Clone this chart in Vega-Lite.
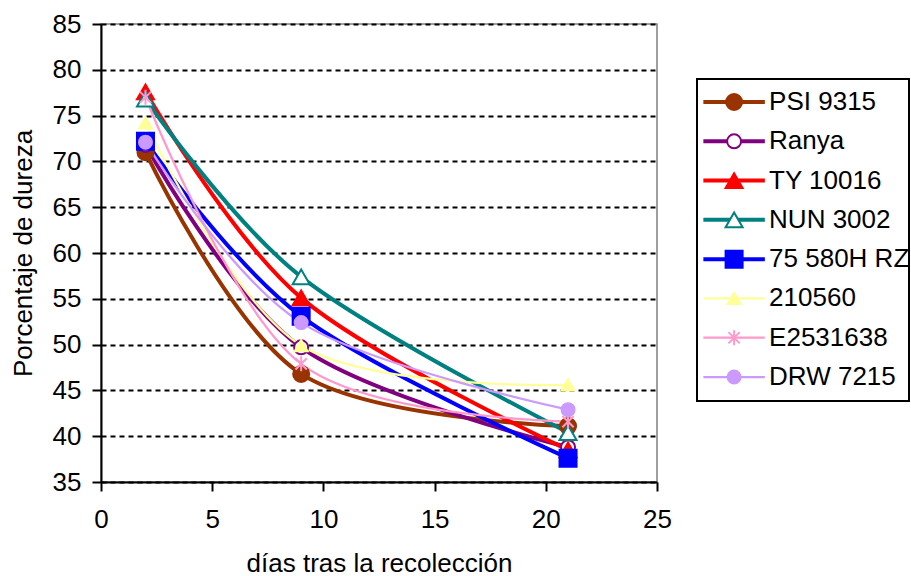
{
  "$schema": "https://vega.github.io/schema/vega-lite/v6.json",
  "background": "white",
  "padding": {"left": 9, "top": 10, "right": 0, "bottom": 0},
  "spacing": 23,
  "config": {
    "font": "Liberation Sans",
    "axis": {
      "domainColor": "black", "domainWidth": 2,
      "tickColor": "black", "tickWidth": 2, "tickSize": 9,
      "labelFontSize": 26, "labelColor": "black", "labelFlush": false,
      "titleFontSize": 26, "titleFontWeight": "normal", "titleColor": "black"
    }
  },
  "datasets": {
    "points": [
      {"series": "PSI 9315", "dias": 2, "dureza": 71.0},
      {"series": "PSI 9315", "dias": 9, "dureza": 46.8},
      {"series": "PSI 9315", "dias": 21, "dureza": 41.1},
      {"series": "Ranya", "dias": 2, "dureza": 71.8},
      {"series": "Ranya", "dias": 9, "dureza": 49.7},
      {"series": "Ranya", "dias": 21, "dureza": 38.8},
      {"series": "TY 10016", "dias": 2, "dureza": 77.6},
      {"series": "TY 10016", "dias": 9, "dureza": 55.1},
      {"series": "TY 10016", "dias": 21, "dureza": 38.5},
      {"series": "NUN 3002", "dias": 2, "dureza": 76.8},
      {"series": "NUN 3002", "dias": 9, "dureza": 57.4},
      {"series": "NUN 3002", "dias": 21, "dureza": 40.4},
      {"series": "75 580H RZ", "dias": 2, "dureza": 72.2},
      {"series": "75 580H RZ", "dias": 9, "dureza": 53.1},
      {"series": "75 580H RZ", "dias": 21, "dureza": 37.6},
      {"series": "210560", "dias": 2, "dureza": 74.2},
      {"series": "210560", "dias": 9, "dureza": 49.9},
      {"series": "210560", "dias": 21, "dureza": 45.6},
      {"series": "E2531638", "dias": 2, "dureza": 77.0},
      {"series": "E2531638", "dias": 9, "dureza": 47.9},
      {"series": "E2531638", "dias": 21, "dureza": 41.6},
      {"series": "DRW 7215", "dias": 2, "dureza": 72.1},
      {"series": "DRW 7215", "dias": 9, "dureza": 52.4},
      {"series": "DRW 7215", "dias": 21, "dureza": 42.9}
    ],
    "series": [
      {"series": "PSI 9315"},
      {"series": "Ranya"},
      {"series": "TY 10016"},
      {"series": "NUN 3002"},
      {"series": "75 580H RZ"},
      {"series": "210560"},
      {"series": "E2531638"},
      {"series": "DRW 7215"}
    ]
  },
  "hconcat": [
    {
      "width": 556,
      "height": 458,
      "view": {"stroke": "#808080", "strokeWidth": 1.5},
      "data": {"name": "points"},
      "layer": [
        {
          "mark": {"type": "line", "interpolate": "cardinal"},
          "encoding": {
            "x": {"field": "dias", "type": "quantitative", "scale": {"domain": [0, 25], "nice": false},
                  "axis": {"values": [0, 5, 10, 15, 20, 25], "grid": false, "labelPadding": 15, "title": "días tras la recolección", "titlePadding": 18}},
            "y": {"field": "dureza", "type": "quantitative", "scale": {"domain": [35, 85], "nice": false, "zero": false},
                  "axis": {"values": [35, 40, 45, 50, 55, 60, 65, 70, 75, 80, 85], "grid": true, "gridColor": "black", "gridDash": [5, 4], "gridWidth": 2, "gridOpacity": 1, "labelPadding": 11, "title": "Porcentaje de dureza", "titlePadding": 16}},
            "color": {"field": "series", "type": "nominal",
                      "scale": {"domain": ["PSI 9315", "Ranya", "TY 10016", "NUN 3002", "75 580H RZ", "210560", "E2531638", "DRW 7215"],
                                "range": ["#993300", "#800080", "#FF0000", "#008080", "#0000FF", "#FFFF99", "#FF99CC", "#CC99FF"]},
                      "legend": null},
            "strokeWidth": {"field": "series", "type": "nominal",
                            "scale": {"type": "ordinal", "domain": ["PSI 9315", "Ranya", "TY 10016", "NUN 3002", "75 580H RZ", "210560", "E2531638", "DRW 7215"],
                                      "range": [4, 4, 4, 4, 4, 2.25, 2.25, 2.25]},
                            "legend": null}
          }
        },
        {
          "mark": {"type": "point", "filled": true, "opacity": 1, "strokeWidth": 2},
          "encoding": {
            "x": {"field": "dias", "type": "quantitative"},
            "y": {"field": "dureza", "type": "quantitative"},
            "shape": {"field": "series", "type": "nominal",
                      "scale": {"domain": ["PSI 9315", "Ranya", "TY 10016", "NUN 3002", "75 580H RZ", "210560", "E2531638", "DRW 7215"],
                                "range": ["circle", "circle", "triangle-up", "triangle-up", "square", "triangle-up", "M0,-1V1M-0.75,-0.75L0.75,0.75M-0.75,0.75L0.75,-0.75", "circle"]},
                      "legend": null},
            "fill": {"field": "series", "type": "nominal",
                     "scale": {"domain": ["PSI 9315", "Ranya", "TY 10016", "NUN 3002", "75 580H RZ", "210560", "E2531638", "DRW 7215"],
                               "range": ["#993300", "#FFFFFF", "#FF0000", "#FFFFFF", "#0000FF", "#FFFF99", "#FF99CC", "#CC99FF"]},
                     "legend": null},
            "stroke": {"field": "series", "type": "nominal",
                       "scale": {"domain": ["PSI 9315", "Ranya", "TY 10016", "NUN 3002", "75 580H RZ", "210560", "E2531638", "DRW 7215"],
                                 "range": ["#993300", "#800080", "#FF0000", "#008080", "#0000FF", "#FFFF99", "#FF99CC", "#CC99FF"]},
                       "legend": null},
            "size": {"field": "series", "type": "nominal",
                     "scale": {"type": "ordinal", "domain": ["PSI 9315", "Ranya", "TY 10016", "NUN 3002", "75 580H RZ", "210560", "E2531638", "DRW 7215"],
                               "range": [256, 196, 289, 289, 289, 169, 225, 169]},
                     "legend": null}
          }
        }
      ]
    },
    {
      "width": 212,
      "height": 458,
      "view": {"stroke": null},
      "data": {"name": "series"},
      "encoding": {
        "y": {"field": "series", "type": "nominal",
              "scale": {"type": "point", "padding": 0, "range": [78, 353], "domain": ["PSI 9315", "Ranya", "TY 10016", "NUN 3002", "75 580H RZ", "210560", "E2531638", "DRW 7215"]},
              "axis": null}
      },
      "layer": [
        {
          "mark": {"type": "rect", "fill": null, "stroke": "black", "strokeWidth": 2, "yOffset": -23, "y2Offset": 24},
          "encoding": {
            "x": {"datum": 0, "type": "quantitative", "scale": {"domain": [0, 1], "nice": false}, "axis": null},
            "x2": {"datum": 1},
            "y": {"datum": "PSI 9315", "type": "nominal"},
            "y2": {"datum": "DRW 7215"}
          }
        },
        {
          "mark": {"type": "rule"},
          "encoding": {
            "x": {"datum": 0.03, "type": "quantitative"},
            "x2": {"datum": 0.32},
            "color": {"field": "series", "type": "nominal",
                      "scale": {"domain": ["PSI 9315", "Ranya", "TY 10016", "NUN 3002", "75 580H RZ", "210560", "E2531638", "DRW 7215"],
                                "range": ["#993300", "#800080", "#FF0000", "#008080", "#0000FF", "#FFFF99", "#FF99CC", "#CC99FF"]},
                      "legend": null},
            "strokeWidth": {"field": "series", "type": "nominal",
                            "scale": {"type": "ordinal", "domain": ["PSI 9315", "Ranya", "TY 10016", "NUN 3002", "75 580H RZ", "210560", "E2531638", "DRW 7215"],
                                      "range": [4, 4, 4, 4, 4, 2.25, 2.25, 2.25]},
                            "legend": null}
          }
        },
        {
          "mark": {"type": "point", "filled": true, "opacity": 1, "strokeWidth": 2},
          "encoding": {
            "x": {"datum": 0.175, "type": "quantitative"},
            "shape": {"field": "series", "type": "nominal",
                      "scale": {"domain": ["PSI 9315", "Ranya", "TY 10016", "NUN 3002", "75 580H RZ", "210560", "E2531638", "DRW 7215"],
                                "range": ["circle", "circle", "triangle-up", "triangle-up", "square", "triangle-up", "M0,-1V1M-0.75,-0.75L0.75,0.75M-0.75,0.75L0.75,-0.75", "circle"]},
                      "legend": null},
            "fill": {"field": "series", "type": "nominal",
                     "scale": {"domain": ["PSI 9315", "Ranya", "TY 10016", "NUN 3002", "75 580H RZ", "210560", "E2531638", "DRW 7215"],
                               "range": ["#993300", "#FFFFFF", "#FF0000", "#FFFFFF", "#0000FF", "#FFFF99", "#FF99CC", "#CC99FF"]},
                     "legend": null},
            "stroke": {"field": "series", "type": "nominal",
                       "scale": {"domain": ["PSI 9315", "Ranya", "TY 10016", "NUN 3002", "75 580H RZ", "210560", "E2531638", "DRW 7215"],
                                 "range": ["#993300", "#800080", "#FF0000", "#008080", "#0000FF", "#FFFF99", "#FF99CC", "#CC99FF"]},
                       "legend": null},
            "size": {"field": "series", "type": "nominal",
                     "scale": {"type": "ordinal", "domain": ["PSI 9315", "Ranya", "TY 10016", "NUN 3002", "75 580H RZ", "210560", "E2531638", "DRW 7215"],
                               "range": [225, 196, 225, 256, 256, 196, 196, 196]},
                     "legend": null}
          }
        },
        {
          "mark": {"type": "text", "align": "left", "baseline": "middle", "fontSize": 26, "color": "black", "clip": true},
          "encoding": {
            "x": {"datum": 0.34, "type": "quantitative"},
            "text": {"field": "series", "type": "nominal"}
          }
        }
      ]
    }
  ]
}
